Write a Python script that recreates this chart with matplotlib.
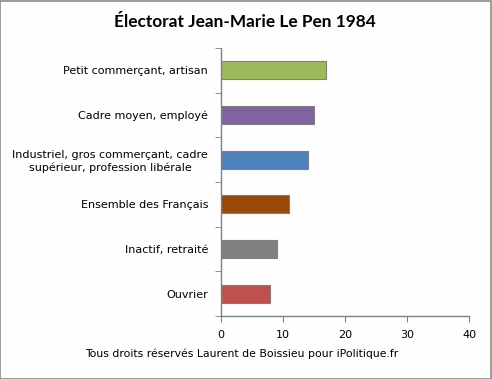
import numpy as np
import matplotlib.pyplot as plt
from matplotlib.patches import Rectangle

categories = ['Ouvrier', 'Inactif, retraité', 'Ensemble des Français',
              'Industriel, gros commerçant, cadre\nsupérieur, profession libérale',
              'Cadre moyen, employé', 'Petit commerçant, artisan']
values = [8, 9, 11, 14, 15, 17]
colors = ['#C0504D', '#808080', '#984807', '#4F81BD', '#8064A2', '#9BBB59']
xticks = [0, 10, 20, 30, 40]

fig = plt.figure(figsize=(4.92, 3.79), dpi=100)
fig.patch.set_facecolor('#FDFEFD')
fig.patches.append(Rectangle((0.001, 0.001), 0.997, 0.996, transform=fig.transFigure,
                             fill=False, edgecolor='#8A8A8A', linewidth=1.2))

ax = fig.add_axes([0.4486, 0.1662, 0.5054, 0.7072])
ax.set_facecolor('#FDFEFD')
y = np.arange(len(categories))
ax.barh(y, values, height=0.4, color=colors, edgecolor='#7F7F7F', linewidth=0.8)

ax.set_xlim(0, 40)
ax.set_ylim(-0.5, len(categories) - 0.5)
ax.set_xticks(xticks)
ax.set_yticks(y)
ax.set_yticklabels(categories, fontsize=8, family='DejaVu Sans',
                   linespacing=1.25, multialignment='center')
ax.set_yticks(np.arange(-0.5, len(categories), 1), minor=True)
ax.tick_params(axis='y', which='major', length=0, pad=9)
ax.tick_params(axis='y', which='minor', length=4, color='#808080', direction='out')
ax.tick_params(axis='x', length=4, color='#808080', direction='out', labelsize=8, pad=6)
for s in ['top', 'right']:
    ax.spines[s].set_visible(False)
for s in ['left', 'bottom']:
    ax.spines[s].set_color('#808080')
    ax.spines[s].set_linewidth(1)

fig.text(0.498, 0.942, 'Électorat Jean-Marie Le Pen 1984', ha='center', va='center',
         fontsize=12.4, fontweight='bold', family='Lato')
fig.text(0.492, 0.066, 'Tous droits réservés Laurent de Boissieu pour iPolitique.fr',
         ha='center', va='center', fontsize=7.8, family='DejaVu Sans')

fig.savefig('out.png', dpi=100, facecolor=fig.get_facecolor())
